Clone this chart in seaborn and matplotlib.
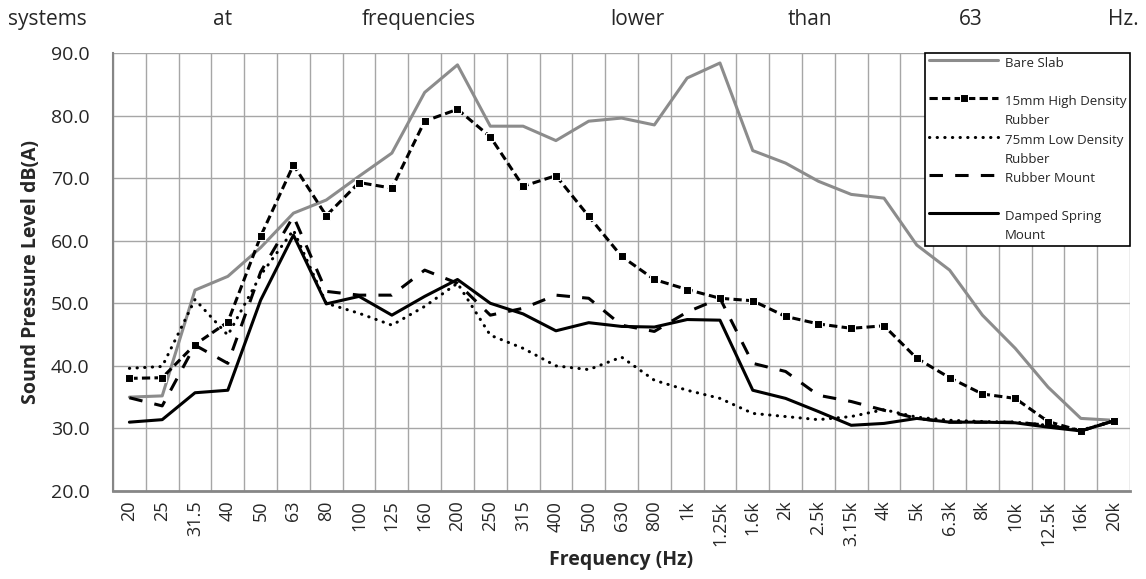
import numpy as np
import pandas as pd
import seaborn as sns
import matplotlib.pyplot as plt

# frequency bands (1/3 octave)
freqs = ["20", "25", "31.5", "40", "50", "63", "80", "100", "125", "160", "200",
         "250", "315", "400", "500", "630", "800", "1k", "1.25k", "1.6k", "2k",
         "2.5k", "3.15k", "4k", "5k", "6.3k", "8k", "10k", "12.5k", "16k", "20k"]

bare_slab = [35.0, 35.2, 52.1, 54.3, 58.9, 64.4, 66.5, 70.3, 74.0, 83.7, 88.1,
             78.3, 78.3, 76.0, 79.1, 79.6, 78.5, 86.0, 88.4, 74.4, 72.4,
             69.5, 67.4, 66.8, 59.3, 55.3, 48.1, 42.8, 36.6, 31.6, 31.3]
hd_rubber = [38.0, 38.1, 43.4, 47.0, 60.7, 72.1, 64.0, 69.3, 68.4, 79.1, 81.0,
             76.6, 68.7, 70.4, 63.9, 57.5, 53.8, 52.2, 50.8, 50.4, 47.9,
             46.7, 46.0, 46.4, 41.2, 38.1, 35.5, 34.8, 31.1, 29.6, 31.2]
ld_rubber = [39.6, 39.9, 50.6, 44.9, 54.5, 61.7, 50.0, 48.4, 46.5, 49.5, 53.2,
             44.9, 42.8, 40.0, 39.4, 41.4, 37.7, 36.1, 34.8, 32.4, 31.9,
             31.4, 31.9, 33.0, 31.8, 31.3, 31.1, 31.0, 30.5, 29.7, 31.2]
rubber_mount = [34.9, 33.6, 43.3, 40.4, 55.0, 63.9, 51.9, 51.3, 51.3, 55.3, 53.2,
                48.1, 49.2, 51.3, 50.8, 46.5, 45.5, 48.6, 50.8, 40.4, 39.1,
                35.3, 34.3, 32.9, 31.6, 31.0, 31.0, 31.0, 30.5, 29.6, 31.2]
damped_spring = [31.0, 31.4, 35.7, 36.1, 50.5, 60.9, 49.9, 51.1, 48.1, 51.1, 53.8,
                 50.0, 48.3, 45.6, 46.9, 46.3, 46.2, 47.4, 47.3, 36.1, 34.8,
                 32.7, 30.5, 30.8, 31.6, 31.0, 31.0, 30.9, 30.2, 29.6, 31.2]

series_names = ["Bare Slab", "15mm High Density\nRubber", "75mm Low Density\nRubber",
                "Rubber Mount", "Damped Spring\nMount"]
series_vals = [bare_slab, hd_rubber, ld_rubber, rubber_mount, damped_spring]

sns.set_style("white")
plt.rcParams['font.family'] = ['Open Sans', 'DejaVu Sans']

grid_col = "#a6a6a6"
axis_col = "#868686"

fig = plt.figure(figsize=(11.46, 5.79), dpi=100)
ax = fig.add_axes([0.0986, 0.152, 0.8875, 0.7565])

x = np.arange(len(freqs))
styles = [
    dict(color="#8c8c8c", linestyle="-"),
    dict(color="black", linestyle=(0, (2.7, 1.4)), marker="s", markersize=6),
    dict(color="black", linestyle=(0, (0.1, 2.4)), dash_capstyle="round"),
    dict(color="black", linestyle=(0, (4.4, 4.0))),
    dict(color="black", linestyle="-"),
]
for name, vals, st in zip(series_names, series_vals, styles):
    sns.lineplot(x=x, y=vals, ax=ax, linewidth=2.2, label=name, **st)

ax.set_xlim(-0.5, len(freqs) - 0.5)
ax.set_ylim(20, 90)
ax.set_xticks(x)
ax.set_xticklabels(freqs, rotation=90, fontsize=13)
ax.set_xticks(np.arange(len(freqs) + 1) - 0.5, minor=True)
ax.set_yticks(np.arange(20, 91, 10))
ax.set_yticklabels([f"{v:.1f}" for v in range(20, 91, 10)], fontsize=14)

ax.tick_params(axis="x", which="major", length=0, pad=7)
ax.tick_params(axis="x", which="minor", length=6, color=axis_col, width=1)
ax.tick_params(axis="y", length=6, color=axis_col, width=1, pad=11)
ax.grid(axis="x", which="minor", color=grid_col, linewidth=1)
ax.grid(axis="y", which="major", color=grid_col, linewidth=1)
ax.grid(axis="x", which="major", visible=False)

for s in ["top", "right"]:
    ax.spines[s].set_visible(False)
ax.spines["left"].set_color(axis_col)
ax.spines["left"].set_linewidth(1.5)
ax.spines["bottom"].set_color(axis_col)
ax.spines["bottom"].set_linewidth(2)

ax.set_xlabel("Frequency (Hz)", fontsize=14, fontweight="bold", labelpad=3)
ax.set_ylabel("Sound Pressure Level dB(A)", fontsize=14, fontweight="bold", labelpad=7)

labels2 = [n if "\n" in n else n + "\n" for n in series_names]
handles, _ = ax.get_legend_handles_labels()
leg = ax.legend(handles, labels2, loc="upper right", bbox_to_anchor=(1.0, 1.0),
                fontsize=9.5, frameon=True, fancybox=False, edgecolor="black",
                framealpha=1, borderaxespad=0, borderpad=0.3, labelspacing=0.48,
                handlelength=5.2, handletextpad=0.5)
leg.get_frame().set_linewidth(1.2)
for t in leg.get_texts():
    t.set_linespacing(1.6)
# put the handle next to the first line of each label
for ln in leg.get_lines():
    ln.set_ydata(np.asarray(ln.get_ydata()) + 9.5)

# cut-off document text above the chart
words = ["systems", "at", "frequencies", "lower", "than", "63", "Hz."]
word_x = [8, 213, 362, 610, 788, 959, 1108]
for w, px in zip(words, word_x):
    fig.text(px / 1146, 1 - 25 / 579, w, fontsize=15, va="baseline", ha="left")

fig.savefig("out.png", dpi=100)
